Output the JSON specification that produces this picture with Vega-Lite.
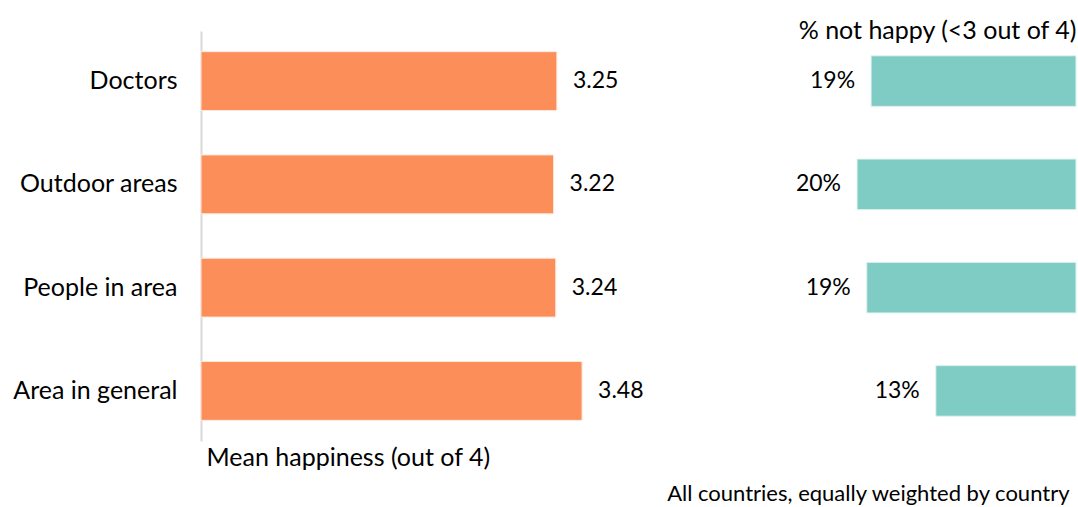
{
  "$schema": "https://vega.github.io/schema/vega-lite/v6.json",
  "padding": {"left": 12, "top": 19, "right": 3, "bottom": 2},
  "background": "white",
  "config": {
    "font": "Lato",
    "view": {"stroke": null},
    "text": {"font": "Lato"},
    "title": {"font": "Lato", "fontWeight": "normal", "color": "#000000"}
  },
  "title": {
    "text": "All countries, equally weighted by country",
    "orient": "bottom",
    "anchor": "end",
    "fontSize": 22,
    "offset": 14,
    "dx": -7
  },
  "data": {
    "values": [
      {"item": "Doctors", "mean": 3.25, "nothappy": 0.190},
      {"item": "Outdoor areas", "mean": 3.22, "nothappy": 0.203},
      {"item": "People in area", "mean": 3.24, "nothappy": 0.194},
      {"item": "Area in general", "mean": 3.48, "nothappy": 0.130}
    ]
  },
  "spacing": 130,
  "hconcat": [
    {
      "width": 438,
      "height": 410,
      "encoding": {
        "y": {
          "field": "item",
          "type": "nominal",
          "sort": null,
          "scale": {"paddingInner": 0.43, "paddingOuter": 0.2},
          "axis": {
            "title": null,
            "domainColor": "#d9d9d9",
            "domainWidth": 2,
            "ticks": false,
            "labelFontSize": 25,
            "labelFont": "Lato",
            "labelColor": "#000000",
            "labelPadding": 24
          }
        },
        "x": {
          "field": "mean",
          "type": "quantitative",
          "scale": {"domain": [0, 4]},
          "axis": {
            "title": "Mean happiness (out of 4)",
            "labels": false,
            "ticks": false,
            "domain": false,
            "grid": false,
            "titleFontSize": 25,
            "titleFont": "Lato",
            "titleFontWeight": "normal",
            "titleColor": "#000000",
            "titleAlign": "left",
            "titleAnchor": "start",
            "titleX": 5,
            "titlePadding": 4
          }
        }
      },
      "layer": [
        {"mark": {"type": "bar", "color": "#FC8E5A", "stroke": "#FFE8DC", "strokeWidth": 1}},
        {
          "mark": {"type": "text", "align": "left", "dx": 16, "fontSize": 23, "color": "#000000"},
          "encoding": {"text": {"field": "mean", "type": "quantitative", "format": ".2f"}}
        }
      ]
    },
    {
      "width": 302,
      "height": 410,
      "title": {
        "text": "% not happy (<3 out of 4)",
        "anchor": "end",
        "fontSize": 25,
        "offset": -13
      },
      "encoding": {
        "y": {
          "field": "item",
          "type": "nominal",
          "sort": null,
          "scale": {"paddingInner": 0.51, "paddingOuter": 0.24},
          "axis": null
        },
        "x": {
          "field": "nothappy",
          "type": "quantitative",
          "scale": {"domain": [0, 0.28], "reverse": true},
          "axis": null
        }
      },
      "layer": [
        {"mark": {"type": "bar", "color": "#7FCCC4", "stroke": "#E0F3F1", "strokeWidth": 1}},
        {
          "mark": {"type": "text", "align": "right", "dx": -16, "fontSize": 23, "color": "#000000"},
          "encoding": {"text": {"field": "nothappy", "type": "quantitative", "format": ".0%"}}
        }
      ]
    }
  ]
}
